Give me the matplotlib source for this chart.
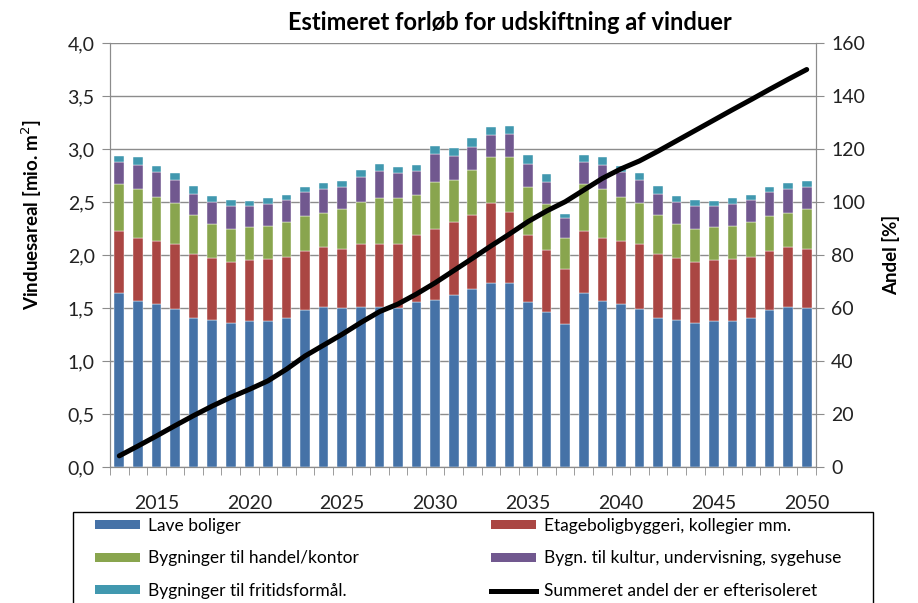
import matplotlib
matplotlib.use("Agg")
import matplotlib.pyplot as plt
import numpy as np
from matplotlib.lines import Line2D
from matplotlib.patches import Patch, Rectangle

plt.rcParams['font.family'] = ['Lato', 'DejaVu Sans']

years = list(range(2013, 2051))
lave = [1.64, 1.57, 1.54, 1.49, 1.41, 1.39, 1.36, 1.38, 1.38, 1.41, 1.48, 1.51, 1.50,
        1.51, 1.51, 1.50, 1.56, 1.58, 1.62, 1.68, 1.74, 1.74, 1.56, 1.46, 1.35,
        1.64, 1.57, 1.54, 1.49, 1.41, 1.39, 1.36, 1.38, 1.38, 1.41, 1.48, 1.51, 1.50]
etage = [0.59, 0.59, 0.59, 0.61, 0.60, 0.58, 0.57, 0.57, 0.58, 0.57, 0.56, 0.57, 0.56,
         0.59, 0.59, 0.60, 0.63, 0.67, 0.69, 0.70, 0.75, 0.67, 0.63, 0.59, 0.52,
         0.59, 0.59, 0.59, 0.61, 0.60, 0.58, 0.57, 0.57, 0.58, 0.57, 0.56, 0.57, 0.56]
handel = [0.44, 0.46, 0.42, 0.39, 0.37, 0.32, 0.32, 0.31, 0.31, 0.33, 0.33, 0.32, 0.37,
          0.40, 0.44, 0.44, 0.38, 0.44, 0.40, 0.42, 0.43, 0.51, 0.45, 0.43, 0.29,
          0.44, 0.46, 0.42, 0.39, 0.37, 0.32, 0.32, 0.31, 0.31, 0.33, 0.33, 0.32, 0.37]
kultur = [0.21, 0.23, 0.23, 0.22, 0.20, 0.21, 0.21, 0.20, 0.21, 0.21, 0.22, 0.22, 0.21,
          0.24, 0.25, 0.23, 0.22, 0.26, 0.22, 0.22, 0.21, 0.22, 0.22, 0.21, 0.19,
          0.21, 0.23, 0.23, 0.22, 0.20, 0.21, 0.21, 0.20, 0.21, 0.21, 0.22, 0.22, 0.21]
fritid = [0.05, 0.07, 0.06, 0.06, 0.07, 0.06, 0.06, 0.05, 0.06, 0.05, 0.05, 0.06, 0.06,
          0.06, 0.07, 0.06, 0.06, 0.08, 0.08, 0.08, 0.08, 0.08, 0.08, 0.07, 0.04,
          0.06, 0.07, 0.06, 0.06, 0.07, 0.06, 0.06, 0.05, 0.06, 0.05, 0.05, 0.06, 0.06]
andel = [4.2, 7.9, 11.7, 15.6, 19.4, 23.0, 26.3, 29.3, 32.5, 36.9, 41.9, 46.0, 50.1,
         54.5, 58.6, 61.5, 65.3, 69.5, 74.1, 78.7, 83.4, 87.9, 92.6, 96.6, 100.1,
         104.5, 108.9, 112.5, 115.5, 119.2, 123.1, 127.0, 130.9, 134.8, 138.6, 142.5, 146.3, 150.0]

series_names = ["Lave boliger", "Etageboligbyggeri, kollegier mm.",
                "Bygninger til handel/kontor", "Bygn. til kultur, undervisning, sygehuse",
                "Bygninger til fritidsformål."]
line_name = "Summeret andel der er efterisoleret"
colors = ["#4572A7", "#AA4643", "#89A54E", "#71588F", "#4198AF"]

W, H = 918, 603
fig = plt.figure(figsize=(W/100, H/100), dpi=100)
ax = fig.add_axes([110/W, 1-467/H, (816-110)/W, (467-43)/H])
ax2 = ax.twinx()

x = np.arange(len(years))
bottom = np.zeros(len(years))
for vals, c in zip([lave, etage, handel, kultur, fritid], colors):
    ax.bar(x, vals, 0.52, bottom=bottom, color=c, edgecolor='white', linewidth=0.3, zorder=3)
    bottom += np.array(vals)

ax2.plot(x, andel, color='black', linewidth=3.6, solid_capstyle='round', zorder=5)

grid_c = '#8c8c8c'
txt_c = '#222222'
ax.set_xlim(-0.5, len(years) - 0.5)
ax.set_ylim(0, 4.0)
ax2.set_ylim(0, 160)
yt = np.arange(0, 4.01, 0.5)
ax.set_yticks(yt)
ax.set_yticklabels([f"{v:.1f}".replace('.', ',') for v in yt])
ax2.set_yticks(np.arange(0, 161, 20))
ax.yaxis.grid(True, color=grid_c, linewidth=1.0, zorder=0)
ax.set_axisbelow(True)

lab_years = [2015, 2020, 2025, 2030, 2035, 2040, 2045, 2050]
ax.set_xticks([years.index(y) for y in lab_years])
ax.set_xticklabels([str(y) for y in lab_years])
ax.set_xticks(np.arange(-0.5, len(years), 1.0), minor=True)
ax.tick_params(axis='x', which='major', length=0, pad=20, labelsize=14, colors=txt_c)
ax.tick_params(axis='x', which='minor', length=6, color=grid_c, direction='out')
ax.tick_params(axis='y', length=6, color=grid_c, labelsize=14, labelcolor=txt_c, pad=5)
ax2.tick_params(axis='y', length=6, color=grid_c, labelsize=14, labelcolor=txt_c, pad=5)

for a in (ax, ax2):
    for s in a.spines.values():
        s.set_color(grid_c)
    a.spines['top'].set_visible(False)

ax.set_ylabel("Vinduesareal [mio. m$^2$]", fontsize=13.5, fontweight='bold')
ax.yaxis.set_label_coords((44-110)/706, (467-215)/424)
ax2.set_ylabel("Andel [%]", fontsize=13.5, fontweight='bold', labelpad=12)
fig.text(510/W, 1-22/H, "Estimeret forløb for udskiftning af vinduer",
         fontsize=17, fontweight='bold', ha='center', va='center')

handles = [Patch(facecolor=c) for c in colors] + [Line2D([0], [0], color='black', linewidth=3.6)]
labels = series_names + [line_name]
order = [0, 2, 4, 1, 3, 5]
leg = fig.legend([handles[i] for i in order], [labels[i] for i in order], ncol=2,
                 loc='upper left', bbox_to_anchor=(95/W, 1-518/H),
                 frameon=False, fontsize=12.5,
                 handlelength=2.6, handleheight=0.42, borderaxespad=0, borderpad=0,
                 labelspacing=0.95, handletextpad=0.45, columnspacing=7.6)
fig.add_artist(Rectangle((73/W, -0.01), 800/W, 0.01 + (603-512)/H, transform=fig.transFigure,
                         fill=False, edgecolor='black', linewidth=1.0))

fig.savefig("out.png", dpi=100)
